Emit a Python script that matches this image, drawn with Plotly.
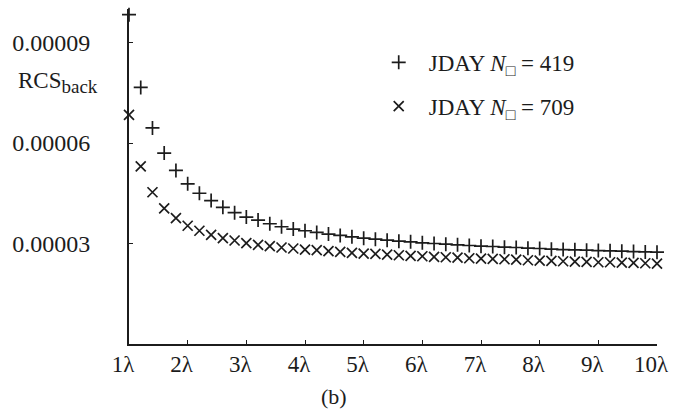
import plotly.graph_objects as go

# wavelength positions (in units of lambda)
x_lambda = [1.0, 1.2, 1.4, 1.6, 1.8, 2.0, 2.2, 2.4, 2.6, 2.8,
            3.0, 3.2, 3.4, 3.6, 3.8, 4.0, 4.2, 4.4, 4.6, 4.8,
            5.0, 5.2, 5.4, 5.6, 5.8, 6.0, 6.2, 6.4, 6.6, 6.8,
            7.0, 7.2, 7.4, 7.6, 7.8, 8.0, 8.2, 8.4, 8.6, 8.8,
            9.0, 9.2, 9.4, 9.6, 9.8, 10.0]

# RCS_back for N = 419 (x 1e-5)
rcs_419_e5 = [9.83, 7.66, 6.45, 5.70, 5.18, 4.78, 4.50, 4.28, 4.08, 3.92,
              3.79, 3.70, 3.59, 3.50, 3.43, 3.38, 3.33, 3.28, 3.24, 3.20,
              3.16, 3.13, 3.10, 3.07, 3.05, 3.02, 3.00, 2.98, 2.96, 2.94,
              2.92, 2.91, 2.89, 2.88, 2.86, 2.85, 2.83, 2.82, 2.81, 2.80,
              2.79, 2.78, 2.77, 2.76, 2.75, 2.74]

# RCS_back for N = 709 (x 1e-5)
rcs_709_e5 = [6.84, 5.30, 4.53, 4.05, 3.76, 3.53, 3.38, 3.26, 3.16, 3.09,
              3.01, 2.96, 2.92, 2.88, 2.85, 2.82, 2.80, 2.77, 2.75, 2.72,
              2.70, 2.69, 2.67, 2.65, 2.63, 2.62, 2.60, 2.59, 2.58, 2.56,
              2.55, 2.54, 2.53, 2.52, 2.50, 2.49, 2.48, 2.47, 2.46, 2.45,
              2.44, 2.44, 2.43, 2.42, 2.41, 2.40]

x_tick_vals = [1, 2, 3, 4, 5, 6, 7, 8, 9, 10]
x_tick_text = ["1λ", "2λ", "3λ", "4λ", "5λ", "6λ", "7λ", "8λ", "9λ", "10λ"]
y_tick_vals = [0.00003, 0.00006, 0.00009]
y_tick_text = ["0.00003", "0.00006", "0.00009"]

series_names = ["JDAY <i>N</i><sub>□</sub> = 419", "JDAY <i>N</i><sub>□</sub> = 709"]

rcs_419 = [v * 1e-5 for v in rcs_419_e5]
rcs_709 = [v * 1e-5 for v in rcs_709_e5]

FONT = "Liberation Serif, Times New Roman, serif"
INK = "#1c1c1c"

fig = go.Figure()
fig.add_trace(go.Scatter(
    x=x_lambda, y=rcs_419, mode="markers", name=series_names[0],
    legendgroup="a", cliponaxis=False,
    marker=dict(symbol="cross-thin", size=10, line=dict(width=1.7, color=INK), color=INK),
))
fig.add_trace(go.Scatter(
    x=x_lambda, y=rcs_709, mode="markers", name=series_names[1],
    legendgroup="b", cliponaxis=False,
    marker=dict(symbol="x-thin", size=10, line=dict(width=1.7, color=INK), color=INK),
))

fig.update_layout(
    width=678, height=410,
    margin=dict(l=129, r=12, t=9, b=66),
    paper_bgcolor="white", plot_bgcolor="white",
    font=dict(family=FONT, color=INK, size=22),
    showlegend=True,
    legend=dict(
        x=0.454, y=0.905, xanchor="left", yanchor="top",
        bgcolor="rgba(0,0,0,0)", borderwidth=0,
        font=dict(family=FONT, size=23, color=INK),
        traceorder="grouped", tracegroupgap=11,
        itemwidth=50,
    ),
    xaxis=dict(
        range=[1, 10], showgrid=False, zeroline=False,
        showline=True, linecolor=INK, linewidth=2,
        ticks="inside", ticklen=4, tickwidth=1.2, tickcolor=INK,
        tickmode="array", tickvals=x_tick_vals, ticktext=x_tick_text,
        tickfont=dict(family=FONT, size=23, color=INK),
        ticklabelshift=-6, ticklabelstandoff=-2,
    ),
    yaxis=dict(
        range=[0, 0.0001], showgrid=False, zeroline=False,
        showline=True, linecolor=INK, linewidth=2,
        ticks="inside", ticklen=4, tickwidth=1.2, tickcolor=INK,
        tickmode="array", tickvals=y_tick_vals, ticktext=y_tick_text,
        tickfont=dict(family=FONT, size=24, color=INK),
        ticklabelstandoff=32,
    ),
    annotations=[
        dict(text="RCS<sub><span style='font-size:19px'>back</span></sub>",
             xref="paper", yref="paper",
             x=0, y=0.78, xanchor="right", yanchor="middle", xshift=-29,
             showarrow=False, font=dict(family=FONT, size=23, color=INK)),
        dict(text="(b)", xref="paper", yref="paper",
             x=0.388, y=0, xanchor="center", yanchor="top", yshift=-38,
             showarrow=False, font=dict(family=FONT, size=22, color=INK)),
    ],
)

fig.write_html("out.html")
